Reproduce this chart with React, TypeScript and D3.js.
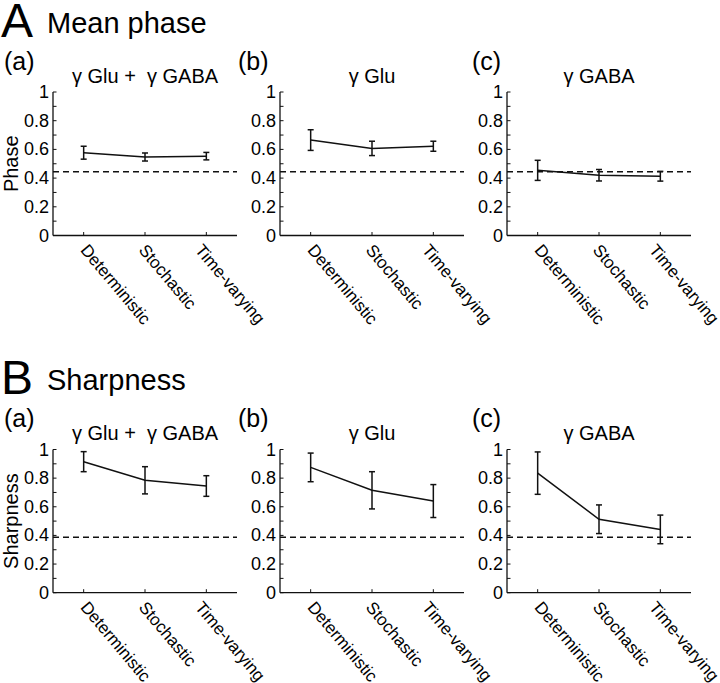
import React from 'react';
import * as d3 from 'd3';

// ---- data ----
const categories = ['Deterministic', 'Stochastic', 'Time-varying'];
const panelTitles = ['γ Glu +  γ GABA', 'γ Glu', 'γ GABA'];
const panelLetters = ['(a)', '(b)', '(c)'];
const yTickValues = [0, 0.2, 0.4, 0.6, 0.8, 1];
const yTickLabels = ['0', '0.2', '0.4', '0.6', '0.8', '1'];
const yMinorTickValues = [0.1, 0.3, 0.5, 0.7, 0.9];

const phaseBoth = [0.577, 0.547, 0.553];
const phaseBothErr = [0.045, 0.028, 0.026];
const phaseGlu = [0.665, 0.607, 0.622];
const phaseGluErr = [0.072, 0.05, 0.035];
const phaseGaba = [0.454, 0.42, 0.413];
const phaseGabaErr = [0.07, 0.04, 0.034];
const phaseChance = 0.445;

const sharpBoth = [0.915, 0.785, 0.745];
const sharpBothErr = [0.07, 0.095, 0.072];
const sharpGlu = [0.875, 0.715, 0.64];
const sharpGluErr = [0.1, 0.13, 0.115];
const sharpGaba = [0.835, 0.513, 0.442];
const sharpGabaErr = [0.148, 0.1, 0.1];
const sharpChance = 0.387;

const FONT = "Arial, 'Liberation Sans', sans-serif";

// ---- layout ----
const panelX = [53, 280, 507];
const panelW = 184;
const letterX = [4, 238, 472];
const labelDx = [-4, -7, -12];

type Section = {
  letter: string;
  title: string;
  yLabel: string;
  top: number;
  bottom: number;
  headerBase: number;
  means: number[][];
  errs: number[][];
  chance: number;
};

const sections: Section[] = [
  {
    letter: 'A', title: 'Mean phase', yLabel: 'Phase', top: 92, bottom: 235.5, headerBase: 0,
    means: [phaseBoth, phaseGlu, phaseGaba], errs: [phaseBothErr, phaseGluErr, phaseGabaErr], chance: phaseChance,
  },
  {
    letter: 'B', title: 'Sharpness', yLabel: 'Sharpness', top: 449.5, bottom: 592.7, headerBase: 357,
    means: [sharpBoth, sharpGlu, sharpGaba], errs: [sharpBothErr, sharpGluErr, sharpGabaErr], chance: sharpChance,
  },
];

function Panel({ s, i }: { s: Section; i: number }) {
  const x0 = panelX[i];
  const x = d3.scalePoint<string>().domain(categories).range([x0, x0 + panelW]).padding(0.5);
  const y = d3.scaleLinear().domain([0, 1]).range([s.bottom, s.top]);
  const mean = s.means[i];
  const err = s.errs[i];
  const line = d3.line<number>().x((_, k) => x(categories[k])!).y((d) => y(d));
  const cap = 3;
  const tick = 3.5;
  return (
    <g>
      <text x={letterX[i]} y={s.headerBase + 70} fontSize={25} fontFamily={FONT}>{panelLetters[i]}</text>
      <text x={x0 + panelW / 2} y={s.headerBase + 83} fontSize={20} fontFamily={FONT} textAnchor="middle" style={{ whiteSpace: 'pre' }}>{panelTitles[i]}</text>
      {/* axes */}
      <line x1={x0} x2={x0} y1={y(1)} y2={y(0)} stroke="#111" strokeWidth={1.3} />
      <line x1={x0} x2={x0 + panelW} y1={y(0)} y2={y(0)} stroke="#111" strokeWidth={1.3} />
      {yTickValues.map((v, k) => (
        <g key={'yt' + k}>
          <line x1={x0} x2={x0 + tick} y1={y(v)} y2={y(v)} stroke="#111" strokeWidth={1} />
          <text x={x0 - 4} y={y(v) + 6} fontSize={18} fontFamily={FONT} textAnchor="end">{yTickLabels[k]}</text>
        </g>
      ))}
      {yMinorTickValues.map((v, k) => (
        <line key={'ym' + k} x1={x0} x2={x0 + tick} y1={y(v)} y2={y(v)} stroke="#111" strokeWidth={1} />
      ))}
      {categories.map((c, k) => (
        <g key={c}>
          <line x1={x(c)!} x2={x(c)!} y1={y(0)} y2={y(0) - tick} stroke="#111" strokeWidth={1} />
          <text transform={`translate(${x(c)! + labelDx[k]},${y(0) + 15}) rotate(50)`} fontSize={17} fontFamily={FONT}>{c}</text>
        </g>
      ))}
      {/* chance line */}
      <line x1={x0} x2={x0 + panelW} y1={y(s.chance)} y2={y(s.chance)} stroke="#111" strokeWidth={1.5} strokeDasharray="6,4" />
      {/* data */}
      <path d={line(mean)!} fill="none" stroke="#111" strokeWidth={1.5} />
      {mean.map((m, k) => {
        const cx = x(categories[k])!;
        return (
          <g key={'e' + k} stroke="#111" strokeWidth={1.5}>
            <line x1={cx} x2={cx} y1={y(m - err[k])} y2={y(m + err[k])} />
            <line x1={cx - cap} x2={cx + cap} y1={y(m - err[k])} y2={y(m - err[k])} />
            <line x1={cx - cap} x2={cx + cap} y1={y(m + err[k])} y2={y(m + err[k])} />
          </g>
        );
      })}
    </g>
  );
}

export default function App() {
  return (
    <svg width={720} height={683} style={{ position: 'absolute', left: 0, top: 0, background: '#fff' }}>
      <rect width={720} height={683} fill="#fff" />
      {sections.map((s) => (
        <g key={s.letter}>
          <text x={1} y={s.headerBase + 37} fontSize={48} fontFamily={FONT}>{s.letter}</text>
          <text x={47} y={s.headerBase + 33} fontSize={29} fontFamily={FONT}>{s.title}</text>
          <text transform={`translate(18,${(s.top + s.bottom) / 2}) rotate(-90)`} fontSize={20} fontFamily={FONT} textAnchor="middle">{s.yLabel}</text>
          {[0, 1, 2].map((i) => <Panel key={i} s={s} i={i} />)}
        </g>
      ))}
    </svg>
  );
}
